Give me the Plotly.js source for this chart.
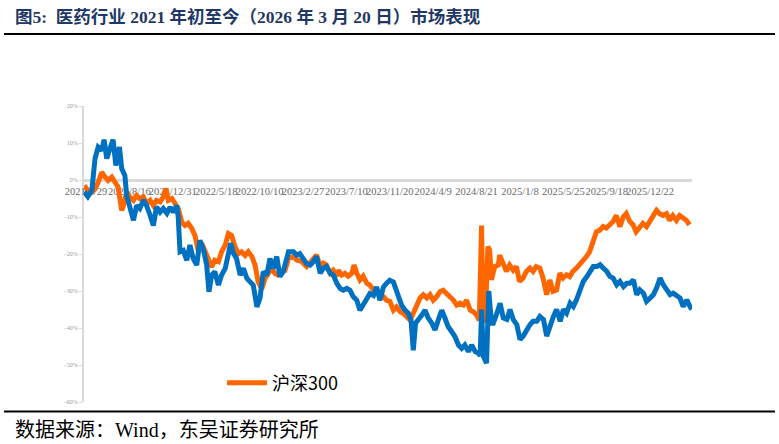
<!DOCTYPE html>
<html>
<head>
<meta charset="utf-8">
<script src="https://cdn.plot.ly/plotly-3.0.1.min.js"></script>
<style>html,body{margin:0;padding:0;background:#fff;}#chart{width:779px;height:444px;}</style>
</head>
<body>
<div id="chart"></div>
<script>
// x-axis category labels (one every 96 trading days)
const tickLabels = ['2021/3/29','2021/8/16','2021/12/31','2022/5/18','2022/10/10','2023/2/27','2023/7/10','2023/11/20','2024/4/9','2024/8/21','2025/1/8','2025/5/25','2025/9/18','2025/12/22'];
const labelStep = 96;

// 沪深300 cumulative return (%), by trading-day index
const hs300Day = [-4,4,13,20,27,35,42,49,57,64,71,79,83,90,97,105,112,119,127,134,142,149,156,164,171,177,182,190,197,204,212,219,226,234,241,248,256,263,271,278,285,293,300,308,315,322,330,337,344,352,359,367,374,381,389,396,403,411,418,425,433,440,448,459,466,477,488,499,510,518,525,532,540,547,555,558,566,573,580,588,593,599,606,613,621,628,636,643,650,658,665,672,680,687,695,702,709,717,724,732,739,746,754,761,768,776,783,790,798,805,813,820,827,835,842,850,857,864,870,875,878,883,889,893,897,904,912,915,923,930,937,945,952,959,967,974,982,989,996,1004,1011,1019,1026,1033,1041,1048,1055,1063,1070,1077,1085,1092,1099,1107,1114,1122,1129,1136,1144,1151,1158,1166,1173,1181,1188,1195,1203,1210,1217,1225,1232,1240,1247,1254,1262,1269,1276,1284,1291,1298,1306,1313,1320,1328,1335];
const hs300 = [-1.5,-2.8,-3.2,-2.4,-0.6,2.1,0.8,-0.1,0.8,-0.6,-1.9,-8.2,-6.9,-3.2,-4.6,-5.5,-4.2,-5.0,-4.6,-6.4,-5.5,-6.9,-5.5,-5.9,-4.6,-2.3,-5.5,-5.0,-6.4,-7.7,-11.4,-12.3,-11.7,-13.1,-15.0,-19.0,-17.1,-19.4,-21.2,-23.5,-21.7,-22.1,-19.4,-17.6,-14.5,-15.0,-18.1,-19.9,-19.4,-20.4,-19.4,-20.7,-23.0,-27.6,-29.4,-26.6,-25.3,-23.9,-25.3,-25.7,-24.8,-24.5,-21.2,-20.7,-21.6,-22.0,-23.4,-21.6,-20.3,-23.4,-22.5,-23.0,-25.2,-24.4,-26.0,-24.4,-25.7,-25.2,-26.0,-25.2,-23.0,-25.2,-27.0,-26.0,-27.9,-28.4,-29.8,-30.2,-30.7,-31.5,-32.5,-32.8,-35.2,-34.3,-35.6,-36.0,-36.9,-37.9,-36.0,-33.8,-31.9,-31.0,-31.9,-31.0,-32.5,-31.5,-30.2,-29.8,-30.7,-31.5,-32.5,-33.8,-33.3,-33.8,-32.5,-35.2,-35.6,-36.5,-37.9,-12.3,-36.5,-38.5,-18.0,-19.0,-27.0,-23.4,-23.0,-20.3,-22.5,-24.7,-23.0,-24.4,-23.4,-27.4,-26.5,-24.7,-23.8,-24.7,-23.4,-23.8,-26.5,-31.0,-27.0,-30.1,-29.7,-25.2,-26.5,-25.6,-26.1,-24.7,-23.8,-22.9,-22.0,-20.7,-19.4,-16.7,-14.0,-13.6,-12.6,-13.0,-12.1,-11.2,-9.6,-12.6,-10.1,-9.1,-11.2,-12.1,-14.0,-12.6,-11.7,-12.6,-11.2,-10.1,-8.2,-9.1,-9.6,-9.1,-10.9,-9.6,-10.9,-9.6,-10.3,-10.9,-12.1];

// 医药行业 cumulative return (%), by trading-day index
const yiyaoDay = [-4,4,13,20,27,35,40,46,53,60,66,74,79,86,90,97,105,112,119,127,134,142,149,156,164,171,179,186,193,201,204,208,215,223,230,237,245,252,260,267,272,278,285,293,300,308,315,320,326,333,341,348,356,363,370,378,385,392,400,407,414,422,429,436,441,448,459,466,473,481,488,496,503,510,518,525,532,540,547,555,562,569,577,584,591,599,606,613,621,628,636,643,650,658,665,672,680,691,698,706,713,719,724,729,735,743,750,757,765,772,779,787,794,801,809,816,824,831,838,846,853,861,868,872,875,879,886,891,897,901,909,916,923,931,938,945,953,960,967,975,982,989,997,1004,1012,1019,1026,1034,1041,1049,1056,1063,1071,1078,1085,1093,1100,1108,1115,1122,1130,1137,1144,1152,1159,1166,1174,1181,1189,1196,1203,1211,1218,1225,1233,1240,1248,1255,1262,1270,1277,1285,1292,1299,1307,1314,1321,1329,1336,1340];
const yiyao = [-3.2,-4.5,-2.8,5.8,8.9,8.0,10.9,5.8,8.5,10.9,3.9,8.9,3.1,1.2,-4.2,-6.9,-10.9,-6.9,-7.7,-5.5,-6.9,-9.6,-12.3,-7.3,-8.7,-7.7,-9.0,-7.3,-8.7,-6.9,-10.0,-19.4,-19.0,-21.7,-17.6,-21.2,-23.0,-16.3,-19.0,-23.0,-30.2,-25.7,-24.8,-28.4,-25.7,-23.9,-20.4,-17.1,-19.8,-21.2,-25.7,-23.9,-26.6,-27.6,-28.4,-34.3,-31.9,-24.8,-25.7,-21.2,-23.9,-20.7,-26.1,-24.8,-22.5,-19.4,-19.4,-20.3,-19.9,-21.2,-22.6,-23.0,-22.1,-20.7,-25.2,-23.9,-23.4,-25.2,-25.7,-27.9,-29.3,-29.8,-29.3,-29.8,-31.5,-32.5,-35.2,-33.8,-32.0,-30.7,-31.2,-28.9,-32.5,-28.9,-27.9,-27.1,-27.6,-31.5,-33.8,-35.2,-36.0,-37.9,-46.0,-38.7,-37.9,-36.5,-35.2,-37.3,-38.7,-40.5,-37.9,-35.2,-37.3,-39.6,-41.0,-42.3,-44.6,-45.5,-44.6,-46.4,-44.6,-46.4,-46.8,-47.5,-35.0,-47.7,-49.5,-30.0,-38.7,-38.7,-36.0,-33.3,-37.3,-37.7,-35.0,-37.7,-39.1,-43.1,-42.2,-40.4,-39.1,-38.2,-38.2,-36.9,-37.7,-42.2,-39.5,-36.9,-35.0,-38.2,-35.0,-36.0,-33.3,-34.2,-32.4,-29.2,-27.4,-26.1,-24.7,-23.4,-23.4,-22.9,-23.8,-24.7,-26.1,-26.5,-28.3,-27.4,-28.8,-27.9,-27.9,-27.0,-31.0,-29.7,-30.6,-32.8,-31.9,-31.0,-29.2,-26.5,-28.3,-29.7,-31.0,-30.6,-31.5,-31.9,-34.2,-32.4,-34.2,-35.0];

const W = 779, H = 444;
const L = 84, R = 87, T = 106, B = 42;
const pw = W - L - R, ph = H - T - B;
const px = x => (x - L) / pw;
const py = y => (H - B - y) / ph;

const traces = [
  {x: hs300Day, y: hs300, type: 'scatter', mode: 'lines', name: '沪深300',
   line: {color: '#FF6600', width: 5}, showlegend: true},
  {x: yiyaoDay, y: yiyao, type: 'scatter', mode: 'lines', name: '医药行业',
   line: {color: '#0070C0', width: 5}, showlegend: false}
];

const layout = {
  width: W, height: H,
  margin: {l: L, r: R, t: T, b: B, pad: 0},
  paper_bgcolor: '#ffffff', plot_bgcolor: '#ffffff',
  title: {
    text: '图5:\u00a0\u00a0医药行业\u00a02021\u00a0年初至今（2026\u00a0年\u00a03\u00a0月\u00a020\u00a0日）市场表现',
    font: {family: 'Liberation Serif, Noto Sans CJK SC', size: 17.5, color: '#1F3864', weight: 700},
    xref: 'container', x: 15 / W, xanchor: 'left',
    yref: 'container', y: 1 - 17 / H, yanchor: 'middle'
  },
  xaxis: {
    type: 'linear',
    range: [-4.4, 1340.5],
    anchor: 'free', position: 0.75,
    showline: true, linecolor: '#D9D9D9', linewidth: 3,
    showgrid: false, zeroline: false,
    ticks: '',
    tickmode: 'array',
    tickvals: tickLabels.map((_, i) => i * labelStep),
    ticktext: tickLabels,
    tickangle: 0,
    tickfont: {family: 'Liberation Serif', size: 10.5, color: '#6A6A6A'},
    layer: 'below traces',
    fixedrange: true
  },
  yaxis: {
    range: [-60, 20],
    dtick: 10, tick0: 0,
    ticksuffix: '%',
    showline: true, linecolor: '#D9D9D9', linewidth: 2,
    ticks: 'outside', ticklen: 3, tickcolor: '#D9D9D9', tickwidth: 1,
    showgrid: false, zeroline: false,
    tickfont: {family: 'Liberation Serif', size: 6, color: '#999999'},
    layer: 'below traces',
    fixedrange: true
  },
  legend: {
    orientation: 'h',
    x: px(222), xanchor: 'left',
    y: py(383), yanchor: 'middle',
    bgcolor: 'rgba(0,0,0,0)',
    font: {family: 'Noto Sans CJK SC', size: 18, color: '#000000'},
    itemwidth: 40
  },
  shapes: [
    {type: 'line', xref: 'paper', yref: 'paper', x0: px(4), x1: px(775), y0: py(34), y1: py(34),
     line: {color: '#000000', width: 2}},
    {type: 'line', xref: 'paper', yref: 'paper', x0: px(4), x1: px(775), y0: py(411.5), y1: py(411.5),
     line: {color: '#000000', width: 2}}
  ],
  annotations: [
    {text: '数据来源：Wind，东吴证券研究所', xref: 'paper', yref: 'paper',
     x: px(13), y: py(430), xanchor: 'left', yanchor: 'middle', showarrow: false,
     font: {family: 'Liberation Serif, Noto Sans CJK SC', size: 20, color: '#000000'}}
  ]
};

Plotly.newPlot('chart', traces, layout, {displayModeBar: false, staticPlot: true});
</script>
</body>
</html>
